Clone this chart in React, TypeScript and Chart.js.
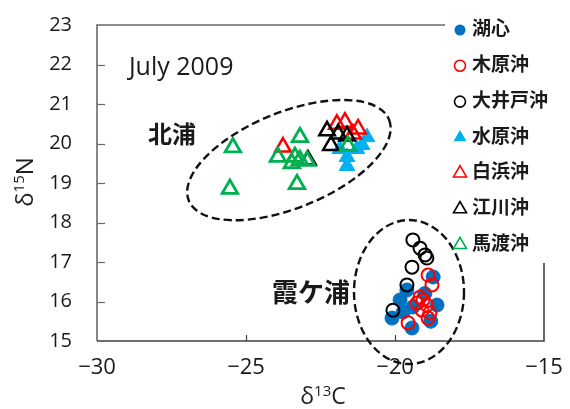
import React, { useEffect, useRef } from 'react';
import { Chart, registerables } from 'chart.js';

Chart.register(...registerables);

// ---- data ----
const seriesNames = ['湖心', '木原沖', '大井戸沖', '水原沖', '白浜沖', '江川沖', '馬渡沖'];

const koshin = [
  [-19.6, 16.29], [-18.72, 16.62], [-20.1, 15.58], [-19.43, 15.33], [-18.59, 15.91],
  [-19.83, 16.04], [-19.4, 15.86], [-19.73, 15.73], [-19.0, 16.2], [-18.8, 15.5],
];
const kiharaoki = [
  [-18.89, 16.67], [-18.76, 16.42], [-19.16, 16.11], [-19.06, 16.04], [-19.26, 15.96],
  [-18.93, 15.91], [-19.09, 15.78], [-18.89, 15.58], [-19.56, 15.46], [-18.83, 15.71],
];
const oidooki = [
  [-19.4, 17.56], [-19.16, 17.35], [-18.99, 17.18], [-18.93, 17.1], [-19.43, 16.87],
  [-19.6, 16.42], [-20.07, 15.78],
];
const mizuharaoki = [
  [-20.94, 20.16], [-21.61, 19.43], [-21.61, 19.66], [-21.28, 19.86], [-21.85, 19.86],
  [-21.1, 19.96],
];
const shirahamaoki = [
  [-23.76, 19.91], [-21.95, 20.49], [-21.68, 20.54], [-21.24, 20.37], [-21.41, 20.24],
];
const egawaoki = [
  [-22.92, 19.58], [-22.28, 20.32], [-21.91, 20.24], [-22.15, 19.95], [-21.61, 20.19],
];
const mawatarioki = [
  [-25.44, 19.9], [-25.54, 18.85], [-23.19, 20.16], [-23.93, 19.66], [-23.36, 19.66],
  [-23.19, 19.58], [-22.95, 19.56], [-23.46, 19.5], [-23.29, 18.97], [-21.58, 19.94],
];

const xTicks = [-30, -25, -20, -15];
const yTicks = [15, 16, 17, 18, 19, 20, 21, 22, 23];

// annotation texts
const dateLabel = 'July 2009';
const kitauraLabel = '北浦';
const kasumigauraLabel = '霞ケ浦';

const toPts = (arr: number[][]) => arr.map(([x, y]) => ({ x, y }));

const BLUE = '#0070C0';
const LBLUE = '#00B0F0';
const RED = '#FF0000';
const BLACK = '#000000';
const GREEN = '#00B050';

const legendStyles = [
  { shape: 'circle', fill: BLUE, stroke: BLUE },
  { shape: 'circle', fill: null, stroke: RED },
  { shape: 'circle', fill: null, stroke: BLACK },
  { shape: 'triangle', fill: LBLUE, stroke: LBLUE },
  { shape: 'triangle', fill: null, stroke: RED },
  { shape: 'triangle', fill: null, stroke: BLACK },
  { shape: 'triangle', fill: null, stroke: GREEN },
];

const decorPlugin = {
  id: 'decor',
  beforeDatasetsDraw(chart: any) {
    const { ctx, chartArea: a, scales } = chart;
    const xs = scales.x;
    const ys = scales.y;
    ctx.save();
    // frame
    ctx.lineWidth = 1.6;
    ctx.strokeStyle = '#6a6a6a';
    ctx.beginPath();
    ctx.moveTo(445, a.top);
    ctx.lineTo(a.left, a.top);
    ctx.lineTo(a.left, a.bottom);
    ctx.stroke();
    ctx.strokeStyle = '#404040';
    ctx.beginPath();
    ctx.moveTo(a.left, a.bottom);
    ctx.lineTo(a.right, a.bottom);
    ctx.lineTo(a.right, 263);
    ctx.stroke();
    // inward ticks
    ctx.lineWidth = 1.2;
    ctx.strokeStyle = '#6a6a6a';
    yTicks.forEach((v) => {
      if (v === 15 || v === 23) return;
      const py = Math.round(ys.getPixelForValue(v)) + 0.5;
      ctx.beginPath();
      ctx.moveTo(a.left, py);
      ctx.lineTo(a.left + 8, py);
      ctx.stroke();
    });
    ctx.strokeStyle = '#404040';
    xTicks.forEach((v) => {
      if (v === -30 || v === -15) return;
      const px = Math.round(xs.getPixelForValue(v)) + 0.5;
      ctx.beginPath();
      ctx.moveTo(px, a.bottom);
      ctx.lineTo(px, a.bottom - 6);
      ctx.stroke();
    });
    ctx.restore();
  },
  afterDatasetsDraw(chart: any) {
    const { ctx, scales } = chart;
    const xs = scales.x;
    const ys = scales.y;
    ctx.save();
    // dashed ellipses
    ctx.setLineDash([8, 4]);
    ctx.lineWidth = 2.4;
    ctx.strokeStyle = '#111';
    ctx.beginPath();
    ctx.ellipse(xs.getPixelForValue(-23.56), ys.getPixelForValue(19.58), 108, 48, -22 * Math.PI / 180, 0, Math.PI * 2);
    ctx.stroke();
    ctx.beginPath();
    ctx.ellipse(xs.getPixelForValue(-19.53), ys.getPixelForValue(16.24), 55, 72, 0, 0, Math.PI * 2);
    ctx.stroke();
    ctx.setLineDash([]);

    // texts
    ctx.fillStyle = '#1a1a1a';
    ctx.textBaseline = 'alphabetic';
    ctx.textAlign = 'left';
    ctx.font = '25px "Open Sans"';
    ctx.fillText(dateLabel, xs.getPixelForValue(-28.93), ys.getPixelForValue(21.73));
    ctx.textBaseline = 'middle';
    ctx.font = 'bold 24px "Noto Sans CJK JP"';
    ctx.fillText(kitauraLabel, xs.getPixelForValue(-28.29), ys.getPixelForValue(20.24));
    ctx.font = 'bold 26px "Noto Sans CJK JP"';
    ctx.fillText(kasumigauraLabel, xs.getPixelForValue(-24.13), ys.getPixelForValue(16.24));

    // axis titles
    ctx.fillStyle = '#1f1f1f';
    const drawSup = (x: number, y: number, a: string, s: string, b: string, size: number, align: string) => {
      ctx.textBaseline = 'alphabetic';
      ctx.textAlign = 'left';
      const big = `${size}px "Open Sans"`;
      const small = `${Math.round(size * 0.64)}px "Open Sans"`;
      ctx.font = big;
      const wa = ctx.measureText(a).width;
      const wb = ctx.measureText(b).width;
      ctx.font = small;
      const ws = ctx.measureText(s).width;
      const total = wa + ws + wb;
      const sx = align === 'center' ? x - total / 2 : x;
      ctx.font = big;
      ctx.fillText(a, sx, y);
      ctx.font = small;
      ctx.fillText(s, sx + wa, y - size * 0.36);
      ctx.font = big;
      ctx.fillText(b, sx + wa + ws, y);
    };
    drawSup(323, 404, 'δ', '13', 'C', 23, 'center');
    ctx.save();
    ctx.translate(33, 182);
    ctx.rotate(-Math.PI / 2);
    drawSup(0, 0, 'δ', '15', 'N', 24, 'center');
    ctx.restore();

    // legend
    const lx = 460;
    const tx = 472;
    seriesNames.forEach((name, i) => {
      const cy = 28 + i * 35.8;
      const st = legendStyles[i];
      ctx.lineWidth = 1.6;
      ctx.strokeStyle = st.stroke;
      ctx.beginPath();
      if (st.shape === 'circle') {
        ctx.arc(lx, cy + 2, 5.5, 0, Math.PI * 2);
      } else {
        const r = 7.5;
        ctx.moveTo(lx, cy + 2 - r);
        ctx.lineTo(lx + r * 0.866, cy + 2 + r / 2);
        ctx.lineTo(lx - r * 0.866, cy + 2 + r / 2);
        ctx.closePath();
      }
      if (st.fill) {
        ctx.fillStyle = st.fill;
        ctx.fill();
      } else {
        ctx.stroke();
      }
      ctx.fillStyle = '#1a1a1a';
      ctx.font = 'bold 19px "Noto Sans CJK JP"';
      ctx.textBaseline = 'middle';
      ctx.textAlign = 'left';
      ctx.fillText(name, tx, cy);
    });
    ctx.restore();
  },
};

export default function App() {
  const ref = useRef<HTMLCanvasElement>(null);
  useEffect(() => {
    if (!ref.current) return;
    const mk = (label: string, data: number[][], style: string, fill: string, stroke: string, r: number, bw: number, order: number) => ({
      label,
      data: toPts(data),
      pointStyle: style,
      pointRadius: r,
      pointHoverRadius: r,
      pointBorderWidth: bw,
      pointBackgroundColor: fill,
      pointBorderColor: stroke,
      backgroundColor: fill,
      borderColor: stroke,
      showLine: false,
      order,
    });
    const chart = new Chart(ref.current, {
      type: 'scatter',
      data: {
        datasets: [
          mk(seriesNames[0], koshin, 'circle', BLUE, BLUE, 7, 1, 7),
          mk(seriesNames[1], kiharaoki, 'circle', 'rgba(0,0,0,0)', RED, 6.5, 2, 4),
          mk(seriesNames[2], oidooki, 'circle', 'rgba(0,0,0,0)', BLACK, 6.5, 2, 5),
          mk(seriesNames[3], mizuharaoki, 'triangle', LBLUE, LBLUE, 9, 1, 6),
          mk(seriesNames[4], shirahamaoki, 'triangle', 'rgba(0,0,0,0)', RED, 9, 2.5, 3),
          mk(seriesNames[5], egawaoki, 'triangle', 'rgba(0,0,0,0)', BLACK, 9, 2.5, 2),
          mk(seriesNames[6], mawatarioki, 'triangle', 'rgba(0,0,0,0)', GREEN, 9, 2.8, 1),
        ],
      },
      options: {
        animation: false,
        responsive: false,
        devicePixelRatio: 1,
        layout: { padding: { top: 25, right: 26, left: 0, bottom: 0 } },
        plugins: { legend: { display: false }, tooltip: { enabled: false } },
        events: [],
        scales: {
          x: {
            type: 'linear',
            min: -30,
            max: -15,
            afterBuildTicks: (s: any) => { s.ticks = xTicks.map((v) => ({ value: v })); },
            afterFit: (s: any) => { s.height = 68; s.paddingLeft = 0; s.paddingRight = 0; },
            grid: { display: false, drawTicks: false },
            border: { display: false },
            ticks: {
              padding: 14,
              color: '#1a1a1a',
              font: { family: "'Open Sans'", size: 22 },
              callback: (v: any) => (v < 0 ? '\u2212' + Math.abs(v) : String(v)),
            },
          },
          y: {
            type: 'linear',
            min: 15,
            max: 23,
            afterBuildTicks: (s: any) => { s.ticks = yTicks.map((v) => ({ value: v })); },
            afterFit: (s: any) => { s.width = 97; s.paddingTop = 0; s.paddingBottom = 0; },
            grid: { display: false, drawTicks: false },
            border: { display: false },
            ticks: {
              padding: 25,
              color: '#1a1a1a',
              font: { family: "'Open Sans'", size: 20 },
            },
          },
        },
      },
      plugins: [decorPlugin],
    } as any);
    return () => chart.destroy();
  }, []);
  return (
    <div style={{ position: 'absolute', left: 0, top: 0, width: 570, height: 409, background: '#fff' }}>
      <canvas ref={ref} width={570} height={409} style={{ width: 570, height: 409, display: 'block' }} />
    </div>
  );
}
